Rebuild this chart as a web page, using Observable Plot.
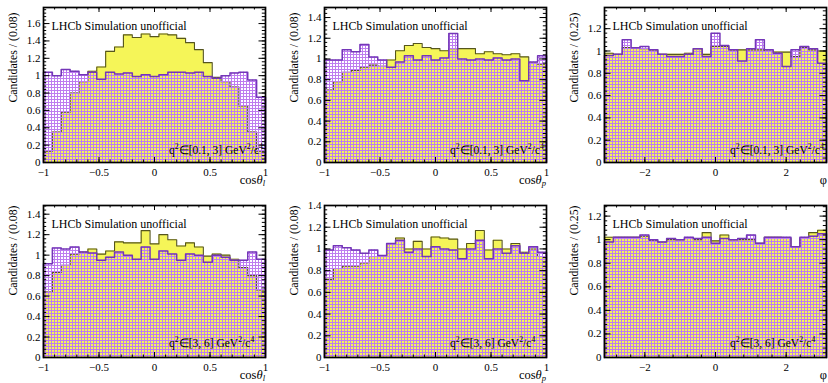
<!DOCTYPE html>
<html><head><meta charset="utf-8">
<script src="https://cdn.jsdelivr.net/npm/d3@7"></script>
<script src="https://cdn.jsdelivr.net/npm/@observablehq/plot@0.6"></script>
<style>
html,body{margin:0;padding:0;background:#fff;}
#wrap{position:relative;width:828px;height:383px;overflow:hidden;font-family:"Liberation Serif","Times New Roman",serif;}
#wrap svg.panel{position:absolute;overflow:visible;}
#wrap svg, #wrap svg text, #wrap svg tspan{font-family:"Liberation Serif","Times New Roman",serif !important;}
</style></head><body>
<svg width="0" height="0" style="position:absolute">
 <defs>
  <pattern id="purpleHatch" patternUnits="userSpaceOnUse" x="0" y="0" width="3" height="3">
   <rect x="0" y="0" width="3" height="1" fill="#bd7cf0"/>
   <rect x="0" y="1" width="1" height="2" fill="#bd7cf0"/>
  </pattern>
 </defs>
</svg>
<div id="wrap"></div>
<script>
// ---------------- data (bin contents, 25 bins each) ----------------
const yellowCosThetaL_q01 = [0.13,0.35,0.58,0.8,0.93,1.05,1.1,1.28,1.33,1.47,1.44,1.48,1.45,1.48,1.47,1.43,1.38,1.3,1.15,0.98,0.93,0.87,0.65,0.35,0.13];
const purpleCosThetaL_q01 = [1.04,1.0,1.07,1.05,1.01,1.04,0.96,1.04,1.02,1.03,0.99,1.01,0.99,1.01,1.04,1.04,1.03,1.04,0.99,0.97,1.0,1.03,1.04,0.95,0.75];

const yellowCosThetaP_q01 = [0.7,0.78,0.87,0.89,0.92,0.94,0.93,0.99,1.08,1.13,1.15,1.11,1.1,1.08,1.1,1.1,1.1,1.05,1.07,1.05,1.04,1.05,1.02,0.96,0.95];
const purpleCosThetaP_q01 = [0.99,0.99,1.09,1.07,1.14,1.02,0.99,0.92,0.97,1.03,0.99,1.03,0.99,1.01,1.245,1.0,0.99,1.0,0.99,1.01,0.99,1.0,0.79,0.97,1.03];

const yellowPhi_q01 = [0.98,0.97,1.03,1.03,1.02,1.01,0.97,0.97,0.97,0.98,1.02,0.97,1.04,1.04,1.01,1.01,1.01,1.01,1.0,0.99,0.99,0.95,1.03,1.01,1.0];
const purplePhi_q01 = [0.96,0.97,1.1,1.03,1.04,1.01,0.97,0.95,0.95,0.97,1.02,0.95,1.16,1.05,1.01,0.91,1.02,1.1,1.01,0.98,0.86,1.01,1.04,1.02,0.89];

const yellowCosThetaL_q36 = [0.64,0.83,0.9,1.01,1.03,1.06,1.01,1.04,1.13,1.12,1.12,1.24,1.11,1.2,1.15,1.09,1.12,1.08,0.99,1.01,1.0,0.96,0.88,0.8,0.66];
const purpleCosThetaL_q36 = [0.915,1.07,1.06,1.08,1.03,1.02,0.95,0.98,1.03,1.0,0.96,1.08,0.96,1.04,1.01,0.95,1.01,1.0,0.93,1.0,0.98,0.95,0.95,1.03,0.96];

const yellowCosThetaP_q36 = [0.72,0.82,0.84,0.84,0.87,0.93,0.94,1.05,1.1,1.0,1.07,1.0,1.11,1.1,1.09,1.0,1.05,1.17,0.99,1.08,1.0,1.05,0.97,1.0,0.93];
const purpleCosThetaP_q36 = [0.99,1.03,1.01,0.99,0.96,0.99,0.94,1.05,1.08,0.97,1.0,0.93,1.02,1.0,0.99,0.91,1.0,1.08,0.91,1.0,0.96,1.03,0.96,1.02,0.97];

const yellowPhi_q36 = [1.02,1.02,1.02,1.02,1.03,0.99,0.98,1.0,1.0,1.01,1.0,1.06,0.99,1.04,1.0,1.0,1.0,0.97,1.02,1.02,1.01,0.94,1.01,1.06,1.08];
const purplePhi_q36 = [0.98,1.02,1.02,1.02,1.04,1.0,0.98,1.01,1.0,1.02,1.01,1.02,0.97,1.01,1.0,1.01,1.04,0.97,1.02,1.02,1.02,0.94,1.02,1.03,1.05];

// tick labels
const xTicksCos = [-1, -0.5, 0, 0.5, 1];
const xTicksPhi = [-2, 0, 2];
const yTicks16 = [0, 0.2, 0.4, 0.6, 0.8, 1, 1.2, 1.4, 1.6];
const yTicks14 = [0, 0.2, 0.4, 0.6, 0.8, 1, 1.2, 1.4];
const yTicks12 = [0, 0.2, 0.4, 0.6, 0.8, 1, 1.2];

const lhcbLabel = "LHCb Simulation unofficial";
const yTitleCos = "Candidates / (0.08)";
const yTitlePhi = "Candidates / (0.25)";
const q2Bins = ["[0.1, 3]", "[3, 6]"];

// ---------------- layout ----------------
const FONT = '"Liberation Serif", "Times New Roman", serif';
const NB = 25;
const edgesCos = d3.range(NB + 1).map(i => -1 + 2 * i / NB);
const edgesPhi = d3.range(NB + 1).map(i => -Math.PI + 2 * Math.PI * i / NB);
const ML = 43, PW = 222;
const COL_LEFT = [0, 281, 561];
const COL_W = [279, 279, 267];
const ROWS = [{top: 0, mt: 7, ph: 155, mb: 28, qDy: 8, titleDy: 5, xt: 22, pad: 6},
              {top: 190, mt: 15, ph: 152, mb: 26, qDy: 10, titleDy: 0, xt: 22, pad: 6}];

const panels = [
  {col: 0, row: 0, kind: "cl", yellow: yellowCosThetaL_q01, purple: purpleCosThetaL_q01, ymax: 1.785, yTicks: yTicks16, q: 0},
  {col: 1, row: 0, kind: "cp", yellow: yellowCosThetaP_q01, purple: purpleCosThetaP_q01, ymax: 1.497, yTicks: yTicks14, q: 0},
  {col: 2, row: 0, kind: "phi", yellow: yellowPhi_q01, purple: purplePhi_q01, ymax: 1.39, yTicks: yTicks12, q: 0},
  {col: 0, row: 1, kind: "cl", yellow: yellowCosThetaL_q36, purple: purpleCosThetaL_q36, ymax: 1.485, yTicks: yTicks14, q: 1},
  {col: 1, row: 1, kind: "cp", yellow: yellowCosThetaP_q36, purple: purpleCosThetaP_q36, ymax: 1.40, yTicks: yTicks14, q: 1},
  {col: 2, row: 1, kind: "phi", yellow: yellowPhi_q36, purple: purplePhi_q36, ymax: 1.29, yTicks: yTicks12, q: 1}
];

const fmt = d => (d < 0 ? "\u2212" + (-d) : String(d));

function rich(svg, x, y, parts, anchor, size) {
  const t = d3.select(svg).append("text")
    .attr("x", x).attr("y", y).attr("text-anchor", anchor)
    .style("font-size", size + "px").style("font-family", FONT).attr("fill", "#000");
  let shift = 0;
  for (const p of parts) {
    const target = p.sup ? -0.42 * size : p.sub ? 0.18 * size : 0;
    const ts = t.append("tspan").text(p.t).attr("dy", target - shift);
    if (p.sup || p.sub) ts.style("font-size", (size * 0.68) + "px");
    if (p.it) ts.attr("font-style", "italic");
    shift = target;
  }
}

function stepData(edges, vals) {
  const n = vals.length;
  return [{x: edges[0], y: 0}, ...edges.map((e, i) => ({x: e, y: vals[Math.min(i, n - 1)]})), {x: edges[n], y: 0}];
}

const wrap = document.getElementById("wrap");

for (const p of panels) {
  const r = ROWS[p.row];
  const width = COL_W[p.col];
  const height = r.mt + r.ph + r.mb;
  const isPhi = p.kind === "phi";
  const edges = isPhi ? edgesPhi : edgesCos;
  const xDomain = isPhi ? [-Math.PI, Math.PI] : [-1, 1];
  const xTicks = isPhi ? xTicksPhi : xTicksCos;
  const xMinor = isPhi ? d3.range(-2.8, 2.81, 0.4) : d3.range(-1, 1.001, 0.1);
  const yMinor = d3.range(0, p.ymax, 0.04);
  const yData = stepData(edges, p.yellow);
  const pData = stepData(edges, p.purple);
  const xMajLen = 5, xMinLen = 2.5, yMajLen = 6.5, yMinLen = 3.2;

  const chart = Plot.plot({
    width, height,
    marginLeft: ML, marginRight: width - ML - PW, marginTop: r.mt, marginBottom: r.mb,
    style: {fontFamily: FONT, fontSize: "11px", background: "transparent", overflow: "visible", color: "#000"},
    x: {domain: xDomain, ticks: xTicks, tickSize: 0, tickPadding: r.pad, tickFormat: fmt, label: null},
    y: {domain: [0, p.ymax], ticks: p.yTicks, tickSize: 0, tickPadding: 3, tickFormat: fmt, label: null},
    marks: [
      Plot.areaY(yData, {x: "x", y: "y", curve: "step-after", fill: "#f5f558"}),
      Plot.lineY(yData, {x: "x", y: "y", curve: "step-after", stroke: "#55551e", strokeWidth: 1.1}),
      Plot.areaY(pData, {x: "x", y: "y", curve: "step-after", fill: "url(#purpleHatch)"}),
      Plot.lineY(pData, {x: "x", y: "y", curve: "step-after", stroke: "#7436b8", strokeWidth: 1.5}),
      Plot.frame({stroke: "#000", strokeWidth: 1.7}),
      Plot.ruleX(xTicks, {insetTop: r.ph - xMajLen, stroke: "#000"}),
      Plot.ruleX(xTicks, {insetBottom: r.ph - xMajLen, stroke: "#000"}),
      Plot.ruleX(xMinor, {insetTop: r.ph - xMinLen, stroke: "#000"}),
      Plot.ruleX(xMinor, {insetBottom: r.ph - xMinLen, stroke: "#000"}),
      Plot.ruleY(p.yTicks, {insetRight: PW - yMajLen, stroke: "#000"}),
      Plot.ruleY(p.yTicks, {insetLeft: PW - yMajLen, stroke: "#000"}),
      Plot.ruleY(yMinor, {insetRight: PW - yMinLen, stroke: "#000"}),
      Plot.ruleY(yMinor, {insetLeft: PW - yMinLen, stroke: "#000"}),
      Plot.text([lhcbLabel], {frameAnchor: "top-left", textAnchor: "start", lineAnchor: "bottom", dx: 8, dy: 22, fontSize: 12}),
      Plot.text([isPhi ? yTitlePhi : yTitleCos], {frameAnchor: "top-left", rotate: -90, textAnchor: "end", lineAnchor: "middle", dx: -30, dy: r.titleDy, fontSize: 11.8})
    ]
  });
  const svg = chart.tagName.toLowerCase() === "svg" ? chart : chart.querySelector("svg");
  svg.classList.add("panel");
  svg.style.left = COL_LEFT[p.col] + "px";
  svg.style.top = r.top + "px";
  svg.style.position = "absolute";

  // q2 label (inside frame, bottom)
  rich(svg, ML + 126, r.mt + r.ph - r.qDy,
    [{t: "q"}, {t: "2", sup: true}, {t: "\u2208" + q2Bins[p.q] + " GeV"}, {t: "2", sup: true}, {t: "/c"}, {t: "4", sup: true}],
    "start", 11.5);

  // x-axis title
  const xr = ML + PW;
  const xy = r.mt + r.ph + r.xt;
  if (p.kind === "cl") rich(svg, xr, xy, [{t: "cos"}, {t: "\u03b8", it: true}, {t: "l", sub: true, it: true}], "end", 12.5);
  else if (p.kind === "cp") rich(svg, xr, xy, [{t: "cos"}, {t: "\u03b8", it: true}, {t: "p", sub: true, it: true}], "end", 12.5);
  else rich(svg, xr + 1, xy, [{t: "\u03c6"}], "end", 12.5);

  wrap.appendChild(svg);
}
</script>
</body></html>
